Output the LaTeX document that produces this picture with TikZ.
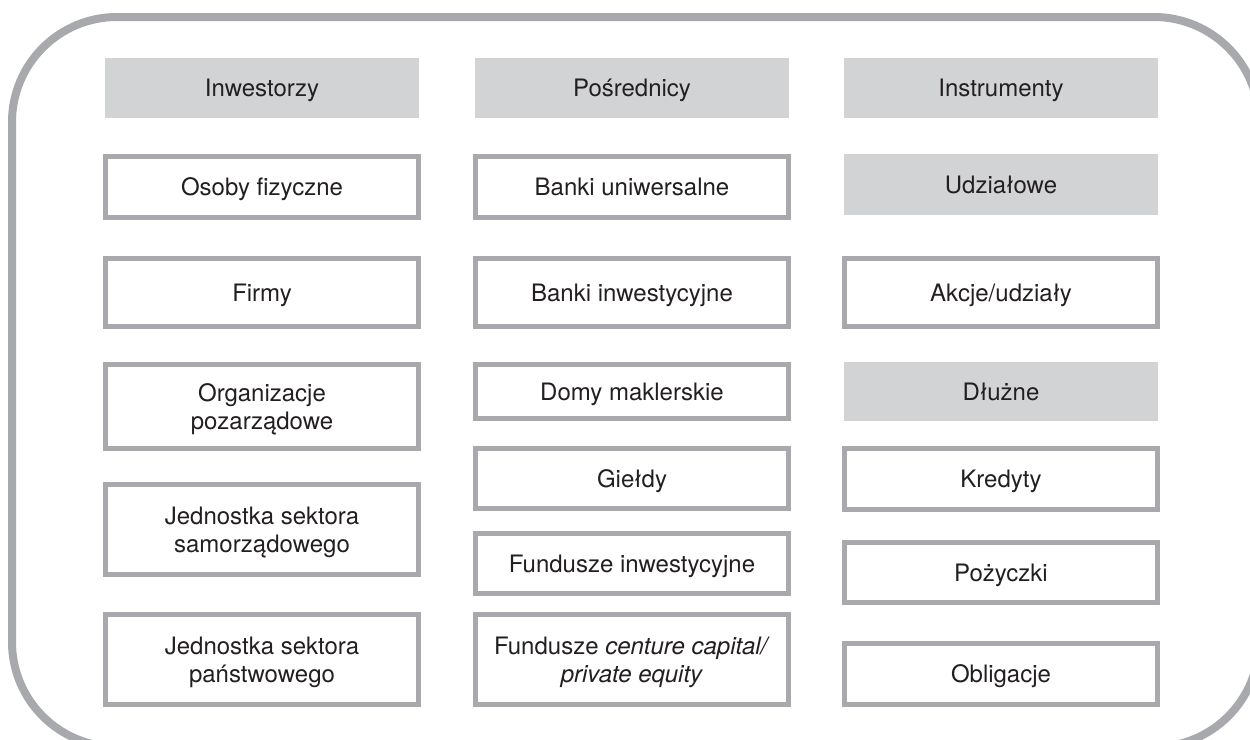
\documentclass[tikz,border=0pt]{standalone}
\usepackage{fontspec}
\setmainfont{TeX Gyre Heros}
\definecolor{framegray}{HTML}{A7A9AC}
\definecolor{headfill}{HTML}{D1D3D4}
\definecolor{inkdark}{HTML}{231F20}
\begin{document}
\begin{tikzpicture}[x=1pt,y=-1pt,
  every node/.style={font=\fontsize{24}{28}\selectfont, text=inkdark, align=center,
    inner sep=0pt, outer sep=0pt, text depth=0pt},
  head/.style={fill=headfill, minimum width=314pt, minimum height=#1},
  item/.style={draw=framegray, line width=5pt, fill=white,
    minimum width=313pt, minimum height=#1}]
\useasboundingbox (0,0) rectangle (1250,739);
\clip (0,0) rectangle (1250,739);

% outer rounded frame, partly running off the page
\draw[framegray, line width=8pt, rounded corners=105pt] (12,17) rectangle (1259,747);

% column 1
\node[head=60pt] (inw) at (262,88) {Inwestorzy};
\node[item=61pt] (osoby) at (262,187) {Osoby fizyczne};
\node[item=68pt] (firmy) at (262,292.5) {Firmy};
\node[item=84pt] (org) at (262,406.5) {Organizacje\\pozarządowe};
\node[item=90pt] (jss) at (262,529.5) {Jednostka sektora\\samorządowego};
\node[item=90pt] (jsp) at (262,659.5) {Jednostka sektora\\państwowego};

% column 2
\node[head=60pt] (posr) at (632,88) {Pośrednicy};
\node[item=61pt] (bu) at (632,187) {Banki uniwersalne};
\node[item=68pt] (bi) at (632,292.5) {Banki inwestycyjne};
\node[item=54pt] (dm) at (632,391.5) {Domy maklerskie};
\node[item=60pt] (gie) at (632,478.5) {Giełdy};
\node[item=60pt] (fi) at (632,563.5) {Fundusze inwestycyjne};
\node[item=90pt] (fvc) at (632,659.5) {Fundusze \textit{centure capital/}\\\textit{private equity}};

% column 3
\node[head=60pt] (instr) at (1001,88) {Instrumenty};
\node[head=61pt] (udz) at (1001,184.5) {Udziałowe};
\node[item=68pt] (akc) at (1001,292.5) {Akcje/udziały};
\node[head=59pt] (dluz) at (1001,391.5) {Dłużne};
\node[item=61pt] (kred) at (1001,479) {Kredyty};
\node[item=60pt] (poz) at (1001,572.5) {Pożyczki};
\node[item=61pt] (obl) at (1001,674) {Obligacje};
\end{tikzpicture}
\end{document}
